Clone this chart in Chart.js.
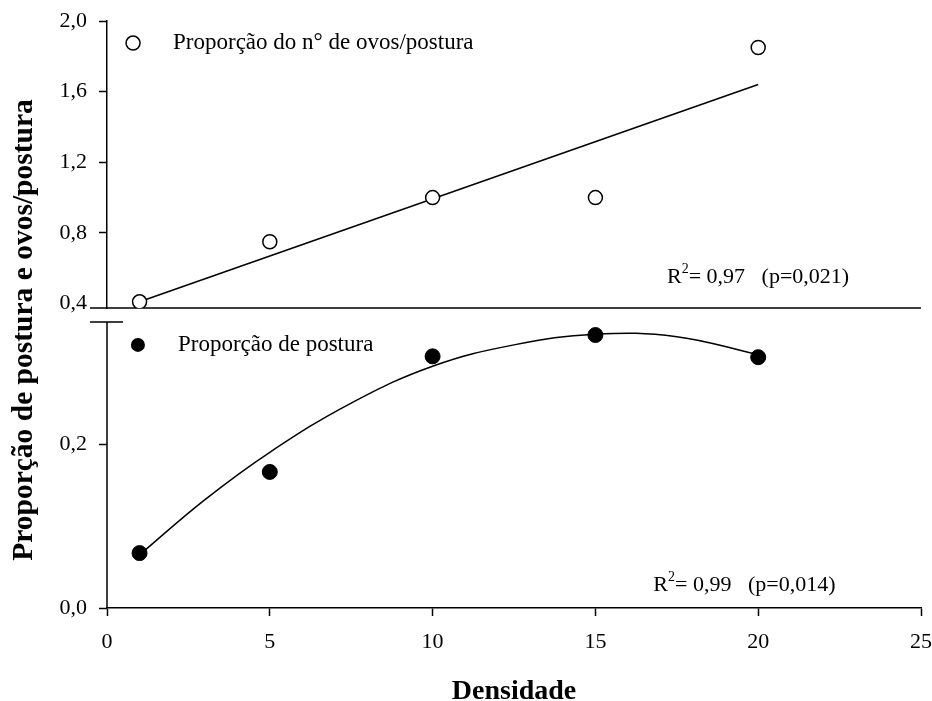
<!DOCTYPE html>
<html>
<head>
<meta charset="utf-8">
<script src="https://cdn.jsdelivr.net/npm/chart.js@4.4.1/dist/chart.umd.min.js"></script>
<style>
  html, body { margin: 0; padding: 0; background: #fff; }
  #wrap { width: 932px; height: 701px; }
</style>
</head>
<body>
<div id="wrap"><canvas id="myChart"></canvas></div>
<script>
// values
const densidade = [1, 5, 10, 15, 20];
const ovosPostura = [0.41, 0.75, 1.0, 1.0, 1.85];      // open circles (upper panel)
const postura = [0.067, 0.166, 0.307, 0.333, 0.306];   // filled circles (lower panel)

// fitted curves as drawn in the figure
const linearFitX = [1, 20];
const linearFitY = [0.41, 1.64];
const quadFitX = [1, 3, 5, 7.5, 10, 12.5, 15, 17.5, 20];
const quadFitY = [0.065, 0.132, 0.19, 0.25, 0.295, 0.321, 0.334, 0.331, 0.309];

const xTicks = [0, 5, 10, 15, 20, 25];
const upperTicks = [0.4, 0.8, 1.2, 1.6, 2.0];
const lowerTicks = [0.0, 0.2];

const upperRange = [0.375, 2.0];
const lowerRange = [0, 0.366];
const lowerBreak = 0.349;

const ctx = document.getElementById('myChart');
const serif = "'Liberation Serif', 'Times New Roman', serif";
Chart.defaults.font.family = serif;
Chart.defaults.font.size = 22;
Chart.defaults.color = '#000';

function pts(xs, ys) {
  return xs.map((x, i) => ({ x: x, y: ys[i] }));
}
function comma(v) {
  return v.toFixed(1).replace('.', ',');
}
// keep the plot box where the figure has it
function fitY(s) {
  s.width = 107;
  s.paddingTop = 0;
  s.paddingBottom = 0;
}
function fitX(s) {
  s.height = 93;
  s.paddingLeft = 0;
  s.paddingRight = 0;
}

// little legends and R2 notes placed in data coordinates
const legendItems = [
  { text: 'Proporção do n° de ovos/postura', axis: 'yHigh', x: 0.8, y: 1.875, filled: false },
  { text: 'Proporção de postura', axis: 'yLow', x: 0.95, y: 0.321, filled: true }
];
const r2Notes = [
  { value: '0,97', p: '0,021', axis: 'yHigh', x: 17.2, y: 0.55 },
  { value: '0,99', p: '0,014', axis: 'yLow', x: 16.78, y: 0.028 }
];

const brokenAxis = {
  id: 'brokenAxis',
  beforeDatasetsDraw(chart) {
    const c = chart.ctx;
    const area = chart.chartArea;
    const hi = chart.scales.yHigh;
    const lo = chart.scales.yLow;
    const yb = lo.getPixelForValue(lowerBreak);
    c.save();
    c.strokeStyle = '#000';
    c.lineWidth = 1.5;
    c.beginPath();
    c.moveTo(area.left - 17, hi.bottom);
    c.lineTo(area.right, hi.bottom);
    c.moveTo(area.left - 17, yb);
    c.lineTo(area.left + 16, yb);
    c.moveTo(area.left, yb);
    c.lineTo(area.left, lo.bottom);
    c.stroke();
    c.restore();
  },
  afterDraw(chart) {
    const c = chart.ctx;
    const xs = chart.scales.x;
    c.save();
    c.fillStyle = '#000';
    c.strokeStyle = '#000';
    c.textBaseline = 'middle';
    c.textAlign = 'left';

    legendItems.forEach(item => {
      const px = xs.getPixelForValue(item.x);
      const py = chart.scales[item.axis].getPixelForValue(item.y);
      c.beginPath();
      c.arc(px, py, 7, 0, Math.PI * 2);
      if (item.filled) {
        c.fill();
      } else {
        c.fillStyle = '#fff';
        c.fill();
        c.lineWidth = 1.5;
        c.stroke();
        c.fillStyle = '#000';
      }
      c.font = '23px ' + serif;
      c.fillText(item.text, px + 40, py);
    });

    r2Notes.forEach(n => {
      let px = xs.getPixelForValue(n.x);
      const py = chart.scales[n.axis].getPixelForValue(n.y);
      c.font = '22px ' + serif;
      c.fillText('R', px, py);
      px += c.measureText('R').width;
      c.font = '14px ' + serif;
      c.fillText('2', px, py - 8);
      px += c.measureText('2').width;
      c.font = '22px ' + serif;
      c.fillText('= ' + n.value + '   (p=' + n.p + ')', px, py);
    });

    // y title spans both panels
    c.font = 'bold 29.5px ' + serif;
    c.textAlign = 'center';
    c.translate(24, 330);
    c.rotate(-Math.PI / 2);
    c.fillText('Proporção de postura e ovos/postura', 0, 0);
    c.restore();
  }
};

new Chart(ctx, {
  type: 'scatter',
  data: {
    datasets: [
      {
        label: 'Proporção do n° de ovos/postura',
        data: pts(densidade, ovosPostura),
        yAxisID: 'yHigh',
        pointRadius: 7,
        pointBackgroundColor: '#fff',
        pointBorderColor: '#000',
        pointBorderWidth: 1.5
      },
      {
        label: 'Proporção de postura',
        data: pts(densidade, postura),
        yAxisID: 'yLow',
        pointRadius: 7.5,
        pointBackgroundColor: '#000',
        pointBorderColor: '#000',
        pointBorderWidth: 1
      },
      {
        label: 'ajuste linear',
        data: pts(linearFitX, linearFitY),
        yAxisID: 'yHigh',
        showLine: true,
        pointRadius: 0,
        borderColor: '#000',
        borderWidth: 1.5
      },
      {
        label: 'ajuste quadrático',
        data: pts(quadFitX, quadFitY),
        yAxisID: 'yLow',
        showLine: true,
        tension: 0.4,
        pointRadius: 0,
        borderColor: '#000',
        borderWidth: 1.5
      }
    ]
  },
  options: {
    responsive: true,
    maintainAspectRatio: false,
    animation: false,
    layout: { padding: { top: 21, right: 11, bottom: 0, left: 0 } },
    plugins: {
      legend: { display: false },
      tooltip: { enabled: false }
    },
    scales: {
      x: {
        type: 'linear',
        min: 0,
        max: 25,
        afterBuildTicks: s => { s.ticks = xTicks.map(v => ({ value: v })); },
        afterFit: fitX,
        ticks: { padding: 13, font: { size: 22 }, callback: v => String(v) },
        grid: { drawOnChartArea: false, drawTicks: true, tickLength: 8, color: '#000', tickWidth: 1.5 },
        border: { display: true, color: '#000', width: 1.5 },
        title: {
          display: true,
          text: 'Densidade',
          font: { size: 28, weight: 'bold', lineHeight: 1 },
          padding: { top: 0, bottom: -5 }
        }
      },
      yLow: {
        type: 'linear',
        position: 'left',
        stack: 'y',
        stackWeight: 300,
        min: lowerRange[0],
        max: lowerRange[1],
        afterBuildTicks: s => { s.ticks = lowerTicks.map(v => ({ value: v })); },
        afterFit: fitY,
        ticks: { padding: 12, font: { size: 22 }, callback: v => comma(v) },
        grid: { drawOnChartArea: false, drawTicks: true, tickLength: 8, color: '#000', tickWidth: 1.5 },
        border: { display: false }
      },
      yHigh: {
        type: 'linear',
        position: 'left',
        stack: 'y',
        stackWeight: 287,
        min: upperRange[0],
        max: upperRange[1],
        afterBuildTicks: s => { s.ticks = upperTicks.map(v => ({ value: v })); },
        afterFit: fitY,
        ticks: { padding: 12, font: { size: 22 }, callback: v => comma(v) },
        grid: {
          drawOnChartArea: false,
          drawTicks: true,
          tickLength: 8,
          tickWidth: 1.5,
          color: '#000',
          tickColor: c => (c.tick && c.tick.value === 0.4 ? 'rgba(0,0,0,0)' : '#000')
        },
        border: { display: true, color: '#000', width: 1.5 }
      }
    }
  },
  plugins: [brokenAxis]
});
</script>
</body>
</html>
